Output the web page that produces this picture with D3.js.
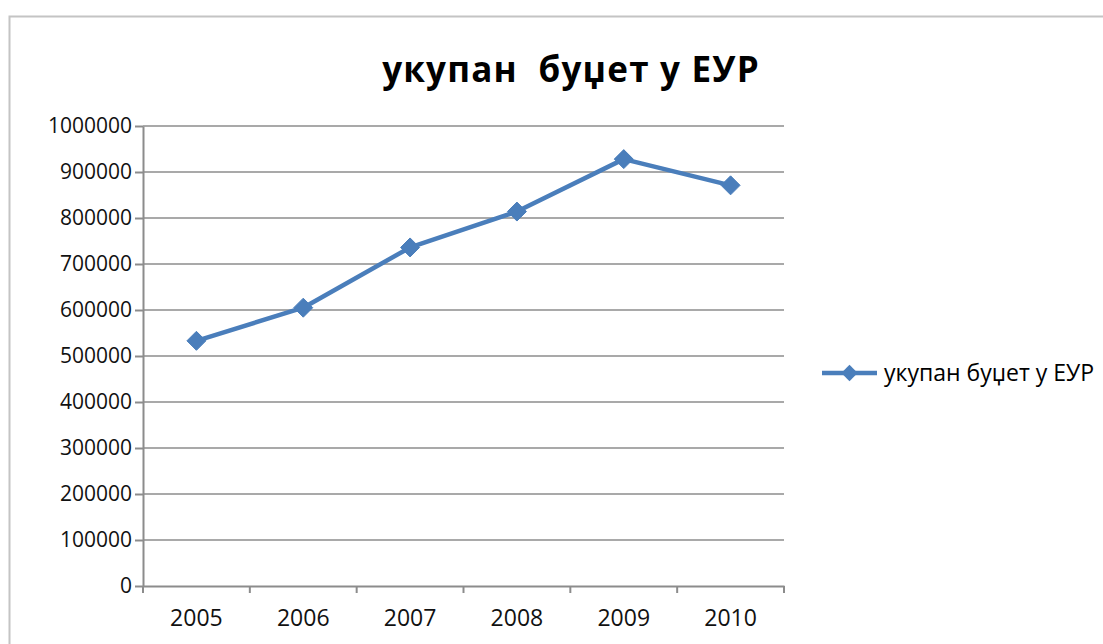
<!DOCTYPE html>
<html>
<head>
<meta charset="utf-8">
<script src="https://cdn.jsdelivr.net/npm/d3@7"></script>
<style>
  body { margin: 0; background: #fff; }
  svg { display: block; font-family: "Open Sans", sans-serif; }
</style>
</head>
<body>
<div id="chart"></div>
<script>
// Data
const years = ["2005", "2006", "2007", "2008", "2009", "2010"];
const budget = [533000, 605000, 736000, 814000, 928000, 871000];
const yTicks = [0, 100000, 200000, 300000, 400000, 500000, 600000, 700000, 800000, 900000, 1000000];
const seriesName = "укупан буџет у ЕУР";
const title = "укупан  буџет у ЕУР";

// Dimensions
const dimensions = {
  width: 1103,
  height: 644,
  left: 143,
  right: 784,
  top: 126,
  bottom: 586,
};

const svg = d3
  .select("#chart")
  .append("svg")
  .attr("width", dimensions.width)
  .attr("height", dimensions.height);

// Chart frame
svg
  .append("rect")
  .attr("x", 9.5)
  .attr("y", 16.5)
  .attr("width", 1200)
  .attr("height", 700)
  .attr("fill", "none")
  .attr("stroke", "#c4c4c4")
  .attr("stroke-width", 2);

// Scales
const xScale = d3.scaleBand().domain(years).range([dimensions.left, dimensions.right]);
const yScale = d3.scaleLinear().domain([0, 1000000]).range([dimensions.bottom, dimensions.top]);

// Gridlines
svg
  .append("g")
  .selectAll("line")
  .data(yTicks.slice(1))
  .join("line")
  .attr("x1", dimensions.left)
  .attr("x2", dimensions.right)
  .attr("y1", (d) => yScale(d))
  .attr("y2", (d) => yScale(d))
  .attr("stroke", "#8c8c8c")
  .attr("stroke-width", 1.5);

// Axes
const yAxis = d3.axisLeft(yScale).tickValues(yTicks).tickSize(8).tickPadding(3).tickSizeOuter(0).tickFormat(d3.format("d"));
const yG = svg.append("g").attr("transform", `translate(${dimensions.left}, 0)`).call(yAxis);

const xAxis = d3.axisBottom(xScale).tickSize(0).tickPadding(24);
const xG = svg.append("g").attr("transform", `translate(0, ${dimensions.bottom})`).call(xAxis);

// band-edge tick marks like Excel
xG.selectAll(".edge")
  .data(d3.range(years.length + 1))
  .join("line")
  .attr("class", "edge")
  .attr("x1", (i) => dimensions.left + i * xScale.bandwidth())
  .attr("x2", (i) => dimensions.left + i * xScale.bandwidth())
  .attr("y1", 0)
  .attr("y2", 7);

[yG, xG].forEach((g) => {
  g.selectAll("path.domain").attr("stroke", "#8c8c8c").attr("stroke-width", 2);
  g.selectAll("line").attr("stroke", "#8c8c8c").attr("stroke-width", 2);
  g.selectAll("text").attr("fill", "#111").attr("font-family", "Open Sans, sans-serif");
});
yG.selectAll("text").style("font-size", "21px");
xG.selectAll("text").style("font-size", "23px");

// Line
const xPos = (d, i) => xScale(years[i]) + xScale.bandwidth() / 2;
const lineGenerator = d3
  .line()
  .x(xPos)
  .y((d) => yScale(d));

svg
  .append("path")
  .datum(budget)
  .attr("d", lineGenerator)
  .attr("fill", "none")
  .attr("stroke", "#4a7ebb")
  .attr("stroke-width", 4.5)
  .attr("stroke-linejoin", "round");

const diamond = d3.symbol().type(d3.symbolDiamond2).size(230);

svg
  .append("g")
  .selectAll("path")
  .data(budget)
  .join("path")
  .attr("d", diamond)
  .attr("transform", (d, i) => `translate(${xPos(d, i)}, ${yScale(d)})`)
  .attr("fill", "#4a7ebb")
  .attr("stroke", "#4a7ebb")
  .attr("stroke-width", 1);

// Title
svg
  .append("text")
  .attr("x", 571)
  .attr("y", 82)
  .attr("text-anchor", "middle")
  .style("font-size", "35px")
  .style("font-weight", "bold")
  .style("letter-spacing", "1.2px")
  .style("white-space", "pre")
  .attr("fill", "#000")
  .text(title);

// Legend
const legend = svg.append("g").attr("transform", "translate(822, 373)");
legend
  .append("line")
  .attr("x1", 0)
  .attr("x2", 55)
  .attr("stroke", "#4a7ebb")
  .attr("stroke-width", 4.5);
legend
  .append("path")
  .attr("d", d3.symbol().type(d3.symbolDiamond2).size(170))
  .attr("transform", "translate(27.5, 0)")
  .attr("fill", "#4a7ebb");
legend
  .append("text")
  .attr("x", 62)
  .attr("dy", "0.35em")
  .style("font-size", "23px")
  .attr("fill", "#000")
  .text(seriesName);
</script>
</body>
</html>
